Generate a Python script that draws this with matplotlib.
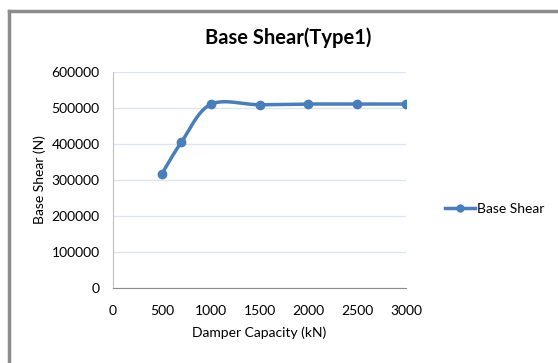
import numpy as np
import matplotlib.pyplot as plt
from matplotlib.lines import Line2D

plt.rcParams['font.family'] = ['Lato', 'DejaVu Sans']

capacity = [500, 700, 1000, 1500, 2000, 2500, 3000]
base_shear = [317000, 405000, 510000, 509000, 511000, 511000, 511000]
x_ticks = [0, 500, 1000, 1500, 2000, 2500, 3000]
y_ticks = [0, 100000, 200000, 300000, 400000, 500000, 600000]


def smooth(xs, ys, n=40):
    # excel-like bezier smoothing through the points
    p = np.column_stack([xs, ys]).astype(float)
    sc = np.array([3000.0, 600000.0])
    p = p / sc
    out = []
    for i in range(len(p) - 1):
        p0 = p[i - 1] if i > 0 else p[i]
        p1 = p[i]
        p2 = p[i + 1]
        p3 = p[i + 2] if i + 2 < len(p) else p[i + 1]
        c1 = p1 + (p2 - p0) / 6
        c2 = p2 - (p3 - p1) / 6
        t = np.linspace(0, 1, n)[:, None]
        seg = (1 - t)**3 * p1 + 3 * (1 - t)**2 * t * c1 + 3 * (1 - t) * t**2 * c2 + t**3 * p2
        out.append(seg)
    out = np.vstack(out) * sc
    return out[:, 0], out[:, 1]


fig = plt.figure(figsize=(5.58, 3.63), dpi=100)
ax = fig.add_axes([113 / 558, 1 - 288 / 363, 293 / 558, 216 / 363])

blue = '#4a7ebb'
sx, sy = smooth(capacity, base_shear)
ax.plot(sx, sy, color=blue, lw=2.5, solid_capstyle='round')
ax.plot(capacity, base_shear, 'o', color=blue, ms=6)

ax.set_xlim(0, 3000)
ax.set_ylim(0, 600000)
ax.set_xticks(x_ticks)
ax.set_yticks(y_ticks)
ax.set_xticklabels([str(v) for v in x_ticks], fontsize=10)
ax.set_yticklabels([str(v) for v in y_ticks], fontsize=10)
ax.tick_params(length=0)
ax.tick_params(axis='y', pad=9.5)
ax.tick_params(axis='x', pad=12)
ax.grid(axis='y', color='#dce6f2', lw=1)
ax.set_axisbelow(True)
for s in ['top', 'right']:
    ax.spines[s].set_visible(False)
ax.spines['left'].set_color('#bfbfbf')
ax.spines['bottom'].set_color('#8c8c8c')

ax.set_xlabel('Damper Capacity (kN)', fontsize=10, labelpad=7)
ax.set_ylabel('Base Shear (N)', fontsize=10, labelpad=4)
fig.text(288 / 558, 1 - 38 / 363, 'Base Shear(Type1)', fontsize=14.5, fontweight='bold',
         ha='center', va='center')

h = Line2D([], [], color=blue, lw=2.5, marker='o', ms=5)
fig.legend([h], ['Base Shear'], loc='center left', bbox_to_anchor=(432 / 558, 1 - 209 / 363),
           frameon=False, fontsize=10, handlelength=2.2, handletextpad=0.15)

# chart border (top and left edges visible)
fig.add_artist(Line2D([8.5 / 558, 1], [1 - 10.5 / 363] * 2, color='#8c8c8c', lw=2.5,
                      transform=fig.transFigure))
fig.add_artist(Line2D([8.5 / 558] * 2, [0, 1 - 10.5 / 363], color='#8c8c8c', lw=2.5,
                      transform=fig.transFigure))

fig.savefig('out.png', dpi=100)
